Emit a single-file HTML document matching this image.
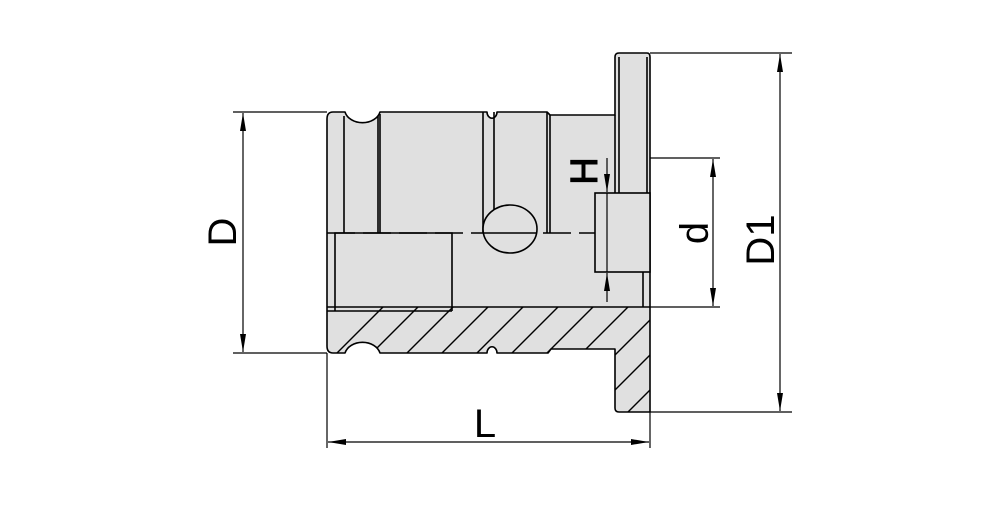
<!DOCTYPE html>
<html><head><style>html,body{margin:0;padding:0;background:#fff}</style></head><body>
<svg width="1000" height="500" viewBox="0 0 1000 500" xmlns="http://www.w3.org/2000/svg" font-family="Liberation Sans, sans-serif">
<defs>
<clipPath id="hc"><path d="M330,307 L650,307 L650,412 L619,412 L615,408 L615,349 L551,349 L548,353 L497,353 A4,5 0 0 0 487,353 L380,353 A18,14 0 0 0 345,353 L333,353 Q327,353 327,346 L327,313 Q327,307 333,307 Z"/></clipPath>
<marker id="ar" viewBox="0 0 18 8" refX="18" refY="4" markerWidth="18" markerHeight="8" orient="auto-start-reverse" markerUnits="userSpaceOnUse"><path d="M0,1 L18,4 L0,7 Z" fill="#000"/></marker>
</defs>
<g stroke="#000" stroke-width="1.6" fill="#e0e0e0" stroke-linejoin="round">
<path d="M333,112 L345,112 A18,14 0 0 0 380,112 L487,112 A4,5 0 0 0 497,112 L547,112 L550,115 L615,115 L615,57 Q615,53 619,53 L647,53 Q650,53 650,57 L650,412 L619,412 Q615,412 615,408 L615,349 L551,349 L548,353 L497,353 A4,5 0 0 0 487,353 L380,353 A18,14 0 0 0 345,353 L333,353 Q327,353 327,346 L327,119 Q327,112 333,112 Z"/>
</g>
<g clip-path="url(#hc)" stroke="#000" stroke-width="1.4">
<line x1="300" y1="390" x2="400" y2="290"/>
<line x1="335" y1="390" x2="435" y2="290"/>
<line x1="370" y1="390" x2="470" y2="290"/>
<line x1="405" y1="390" x2="505" y2="290"/>
<line x1="440" y1="390" x2="540" y2="290"/>
<line x1="475" y1="390" x2="575" y2="290"/>
<line x1="510" y1="390" x2="610" y2="290"/>
<line x1="545" y1="390" x2="645" y2="290"/>
<line x1="580" y1="390" x2="680" y2="290"/>
<line x1="560" y1="445" x2="700" y2="305"/>
<line x1="580" y1="460" x2="700" y2="340"/>
<line x1="600" y1="475" x2="700" y2="375"/>
</g>
<g stroke="#000" stroke-width="1.6" fill="none">
<path d="M327,307 L650,307"/>
<line x1="615" y1="115" x2="615" y2="193"/>
<line x1="619" y1="57" x2="619" y2="193"/>
<line x1="647" y1="57" x2="647" y2="193"/>
<line x1="344" y1="116" x2="344" y2="233"/>
<line x1="378" y1="116" x2="378" y2="233"/>
<line x1="380" y1="114" x2="380" y2="233"/>
<line x1="483" y1="112" x2="483" y2="233"/>
<line x1="494" y1="112" x2="494" y2="233"/>
<line x1="547" y1="112" x2="547" y2="233"/>
<line x1="550" y1="115" x2="550" y2="233"/>
<line x1="327" y1="233" x2="595" y2="233" stroke-dasharray="28,8"/>
<path d="M335,311 L335,233 L452,233 L452,311"/>
<path d="M327,311 L452,311"/>
<ellipse cx="510" cy="229" rx="27" ry="24" fill="#e0e0e0"/>
<line x1="483" y1="233" x2="537" y2="233"/>
<rect x="595" y="193" width="55" height="79" fill="#e0e0e0"/>
<line x1="643" y1="272" x2="643" y2="307"/>
</g>
<g stroke="#000" stroke-width="1.2" fill="none">
<line x1="233" y1="112" x2="327" y2="112"/><line x1="233" y1="353" x2="327" y2="353"/>
<line x1="243" y1="113" x2="243" y2="352" marker-start="url(#ar)" marker-end="url(#ar)"/>
<line x1="650" y1="53" x2="792" y2="53"/><line x1="650" y1="412" x2="792" y2="412"/>
<line x1="780" y1="54" x2="780" y2="411" marker-start="url(#ar)" marker-end="url(#ar)"/>
<line x1="650" y1="158" x2="720" y2="158"/><line x1="650" y1="307" x2="720" y2="307"/>
<line x1="713" y1="159" x2="713" y2="306" marker-start="url(#ar)" marker-end="url(#ar)"/>
<line x1="327" y1="353" x2="327" y2="448"/><line x1="650" y1="412" x2="650" y2="448"/>
<line x1="328" y1="442" x2="649" y2="442" marker-start="url(#ar)" marker-end="url(#ar)"/>
<line x1="607" y1="158" x2="607" y2="192" marker-end="url(#ar)"/>
<line x1="607" y1="302" x2="607" y2="273" marker-end="url(#ar)"/>
<line x1="607" y1="193" x2="607" y2="272"/>
</g>
<g font-size="40" fill="#000" text-anchor="middle">
<text transform="translate(236,232) rotate(-90)">D</text>
<text transform="translate(774,240) rotate(-90)">D1</text>
<text transform="translate(708,233) rotate(-90)">d</text>
<text x="485" y="437">L</text>
<text transform="translate(597,171) rotate(-90)" font-size="38" stroke="#000" stroke-width="1">H</text>
</g>
</svg>
</body></html>
